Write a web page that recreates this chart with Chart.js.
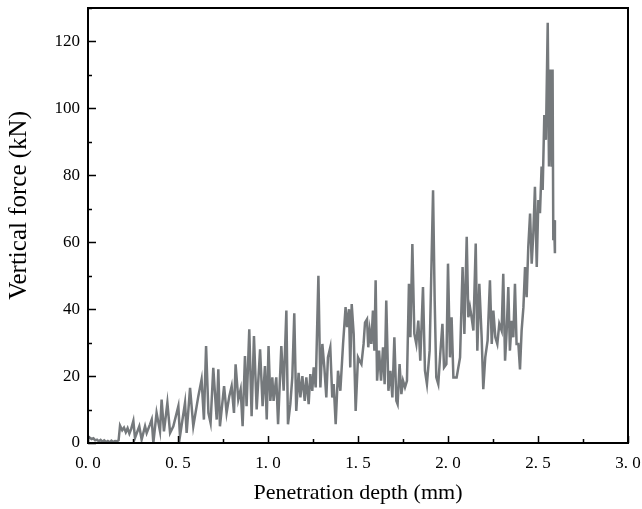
<!DOCTYPE html>
<html>
<head>
<meta charset="utf-8">
<script src="https://cdn.jsdelivr.net/npm/chart.js@4/dist/chart.umd.min.js"></script>
<style>
  html, body { margin: 0; padding: 0; background: #fff; }
  #wrap { width: 642px; height: 509px; }
</style>
</head>
<body>
<div id="wrap"><canvas id="forceChart"></canvas></div>
<script>
// penetration depth (mm)
const depth = [
  0.00, 0.01, 0.02, 0.03, 0.04, 0.05, 0.06, 0.07, 0.08, 0.09, 0.10, 0.11, 0.12, 0.13, 0.14, 0.15, 0.16, 0.17,
  0.178, 0.19, 0.20, 0.21, 0.22, 0.23, 0.24, 0.252, 0.261, 0.285, 0.298, 0.317, 0.326, 0.344, 0.354, 0.363,
  0.381, 0.40, 0.409, 0.422, 0.441, 0.456, 0.474, 0.502, 0.511, 0.539, 0.548, 0.567, 0.585, 0.613, 0.631,
  0.644, 0.656, 0.669, 0.681, 0.696, 0.715, 0.724, 0.733, 0.756, 0.77, 0.785, 0.798, 0.811, 0.82, 0.835,
  0.848, 0.859, 0.872, 0.881, 0.896, 0.909, 0.922, 0.937, 0.956, 0.97, 0.983, 0.993, 1.003,
  1.013, 1.024, 1.031, 1.046, 1.056, 1.074, 1.087, 1.102, 1.111, 1.124, 1.135, 1.146, 1.157, 1.17, 1.18,
  1.191, 1.204, 1.213, 1.226, 1.235, 1.246, 1.254, 1.265, 1.28, 1.291, 1.302, 1.313, 1.324, 1.333, 1.346,
  1.357, 1.365, 1.376, 1.389, 1.402, 1.417, 1.431, 1.439, 1.45, 1.457, 1.465, 1.476, 1.487, 1.50, 1.509,
  1.519, 1.531, 1.539, 1.55, 1.557, 1.565, 1.574, 1.583, 1.591, 1.598, 1.606, 1.617, 1.628, 1.639, 1.648,
  1.657, 1.669, 1.68, 1.691, 1.702, 1.713, 1.72, 1.731, 1.741, 1.75, 1.761, 1.772, 1.783, 1.791, 1.802,
  1.813, 1.824, 1.835, 1.846, 1.861, 1.872, 1.883, 1.898, 1.917, 1.926, 1.935, 1.946, 1.957, 1.969, 1.978,
  1.991, 2.00, 2.011, 2.02, 2.03, 2.048, 2.067, 2.081, 2.091, 2.104, 2.113, 2.122, 2.131, 2.141, 2.154,
  2.163, 2.174, 2.187, 2.196, 2.207, 2.22, 2.233, 2.243, 2.252, 2.263, 2.274, 2.285, 2.298, 2.307, 2.317,
  2.326, 2.335, 2.344, 2.354, 2.363, 2.372, 2.381, 2.391, 2.40, 2.409, 2.419, 2.428, 2.437, 2.446, 2.456,
  2.465, 2.474, 2.483, 2.493, 2.502, 2.511, 2.52, 2.526, 2.535, 2.544, 2.554, 2.561, 2.567, 2.576, 2.581,
  2.585, 2.589, 2.594
];
// vertical force (kN)
const force = [
  2.0, 1.6, 1.2, 1.4, 0.8, 1.0, 0.5, 0.9, 0.4, 0.8, 0.3, 0.6, 0.2, 0.7, 0.3, 0.6, 0.5, 0.8,
  5.2, 3.8, 4.6, 3.2, 4.4, 2.8, 4.2, 6.6, 1.5, 5.0, 1.0, 5.0, 3.0, 5.5, 7.0, 0.0,
  9.0, 3.5, 13.0, 3.5, 12.0, 3.0, 5.0, 11.0, 2.0, 12.0, 3.0, 16.5, 5.0, 14.0, 19.0,
  7.0, 29.0, 9.0, 6.0, 22.5, 7.0, 22.0, 5.0, 17.0, 9.0, 14.0, 17.0, 9.0, 23.5, 13.0,
  16.0, 5.0, 26.0, 11.0, 34.0, 8.0, 32.0, 10.0, 28.0, 11.0, 23.0, 7.0, 29.0,
  12.6, 19.6, 12.6, 19.6, 5.6, 29.0, 15.6, 39.6, 5.6, 11.6, 19.6, 38.8, 9.6, 21.0, 13.6,
  20.0, 12.6, 19.6, 11.6, 20.6, 15.6, 22.6, 16.6, 50.0, 16.6, 29.6, 22.6, 13.6, 25.6, 28.6,
  13.6, 17.6, 5.6, 21.6, 15.6, 29.6, 40.6, 34.6, 40.0, 22.6, 41.5, 32.6, 9.6, 25.6, 24.6,
  23.6, 29.6, 36.0, 37.0, 28.6, 33.6, 29.6, 39.6, 27.6, 48.6, 18.6, 27.6, 18.6, 28.6, 17.6,
  42.6, 15.6, 21.6, 13.6, 31.6, 12.6, 11.6, 23.6, 14.6, 18.6, 16.6, 18.6, 47.6, 31.6, 59.5,
  32.6, 29.6, 36.6, 24.6, 46.6, 21.6, 17.6, 27.6, 75.5, 42.6, 19.6, 17.6, 26.6, 35.6, 22.6,
  23.6, 53.6, 25.6, 37.6, 19.6, 19.6, 25.6, 52.6, 32.6, 61.6, 37.6, 40.6, 37.6, 33.6, 59.6,
  27.6, 47.6, 31.6, 16.1, 25.6, 30.6, 48.6, 29.6, 39.6, 31.6, 29.6, 35.6, 33.6, 50.6, 24.6,
  33.6, 46.6, 27.6, 36.5, 31.6, 47.6, 29.6, 29.6, 22.0, 33.6, 40.6, 52.6, 43.6, 58.6, 68.6,
  53.6, 62.6, 76.6, 52.6, 72.6, 68.7, 82.6, 75.6, 98.0, 90.6, 125.6, 82.6, 111.6, 82.6, 111.6,
  60.6, 66.6, 56.7
];

const xTicks = [0, 0.5, 1.0, 1.5, 2.0, 2.5, 3.0];
const yTicks = [0, 20, 40, 60, 80, 100, 120];
const xTitle = 'Penetration depth (mm)';
const yTitle = 'Vertical force (kN)';

// frame, inward major/minor ticks and the y title, placed through the chart's own scales
const frameTicks = {
  id: 'frameTicks',
  afterDraw(chart) {
    const ctx = chart.ctx;
    const a = chart.chartArea;
    const xs = chart.scales.x, ys = chart.scales.y;
    ctx.save();
    ctx.strokeStyle = '#000';
    ctx.lineWidth = 1.5;
    ctx.beginPath();
    for (let v = 0; v <= 3.0001; v += 0.25) {
      const px = Math.round(xs.getPixelForValue(v)) + 0.5;
      const major = Math.abs(v * 2 - Math.round(v * 2)) < 1e-6;
      ctx.moveTo(px, a.bottom);
      ctx.lineTo(px, a.bottom - (major ? 7 : 4));
    }
    for (let v = 0; v <= 130; v += 10) {
      const py = Math.round(ys.getPixelForValue(v)) + 0.5;
      const major = v % 20 === 0;
      ctx.moveTo(a.left, py);
      ctx.lineTo(a.left + (major ? 8 : 4), py);
    }
    ctx.stroke();
    ctx.lineWidth = 2;
    ctx.strokeRect(a.left, a.top, a.right - a.left, a.bottom - a.top);

    // y title sits a little above the middle of the axis in the original
    ctx.translate(19, ys.getPixelForValue(71));
    ctx.rotate(-Math.PI / 2);
    ctx.fillStyle = '#000';
    ctx.font = '25px "Liberation Serif"';
    ctx.textAlign = 'center';
    ctx.textBaseline = 'middle';
    ctx.fillText(yTitle, 0, 0);
    ctx.restore();
  }
};

new Chart(document.getElementById('forceChart'), {
  type: 'line',
  data: {
    datasets: [{
      data: depth.map((d, i) => ({ x: d, y: force[i] })),
      borderColor: '#75797c',
      borderWidth: 2.5,
      pointRadius: 0,
      tension: 0,
      fill: false
    }]
  },
  options: {
    responsive: true,
    maintainAspectRatio: false,
    animation: false,
    layout: { padding: { top: 8, right: 14, left: 0, bottom: 0 } },
    plugins: { legend: { display: false }, tooltip: { enabled: false } },
    scales: {
      x: {
        type: 'linear',
        min: 0, max: 3,
        afterFit(s) { s.height = 66; s.paddingLeft = 0; s.paddingRight = 0; },
        afterBuildTicks(s) { s.ticks = xTicks.map(v => ({ value: v })); },
        grid: { display: false, drawTicks: false },
        border: { display: false },
        ticks: {
          padding: 10,
          color: '#000',
          font: { family: 'Liberation Serif', size: 17 },
          callback: v => Number(v).toFixed(1).replace('.', '. ')
        },
        title: {
          display: true, text: xTitle, color: '#000',
          font: { family: 'Liberation Serif', size: 22 },
          padding: { top: 0, bottom: 3 }
        }
      },
      y: {
        type: 'linear',
        min: 0, max: 130,
        afterFit(s) { s.width = 88; s.paddingTop = 0; s.paddingBottom = 0; },
        afterBuildTicks(s) { s.ticks = yTicks.map(v => ({ value: v })); },
        grid: { display: false, drawTicks: false },
        border: { display: false },
        ticks: {
          padding: 8,
          color: '#000',
          font: { family: 'Liberation Serif', size: 17 }
        },
        title: { display: false }
      }
    }
  },
  plugins: [frameTicks]
});
</script>
</body>
</html>
